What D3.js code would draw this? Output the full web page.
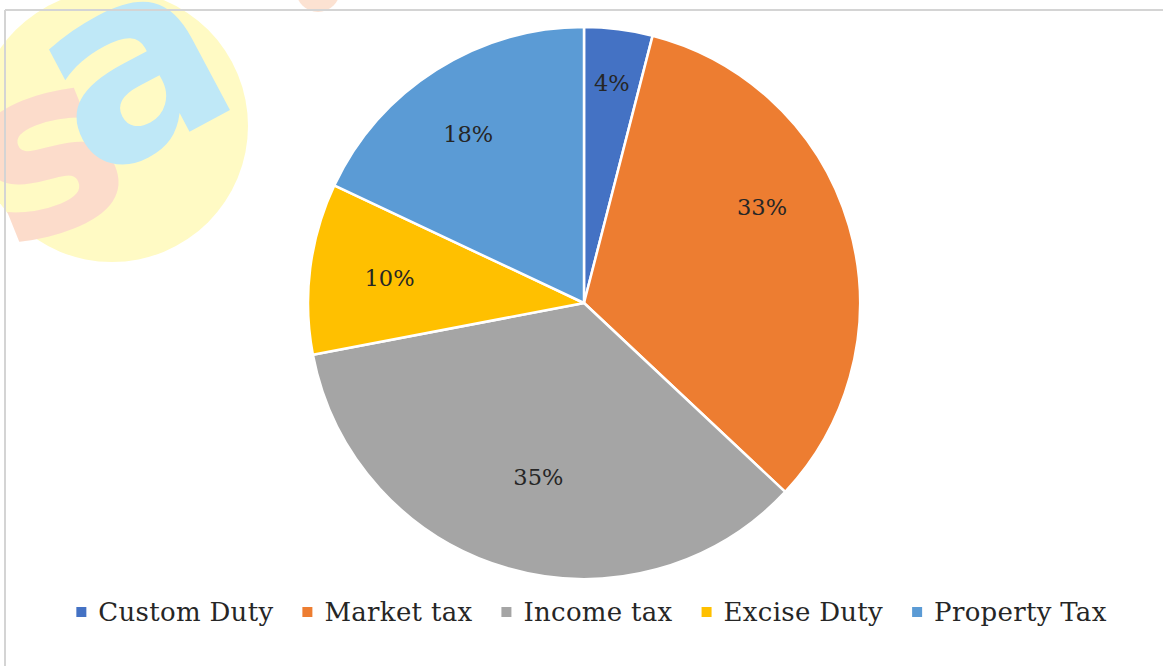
<!DOCTYPE html>
<html><head><meta charset="utf-8">
<script src="https://cdn.jsdelivr.net/npm/d3@7"></script>
<style>body{margin:0;background:#fff}svg{display:block}</style>
</head><body>
<script>
const categories = ["Custom Duty","Market tax","Income tax","Excise Duty","Property Tax"];
const values = [4,33,35,10,18];
const colors = ["#4472C4","#ED7D31","#A5A5A5","#FFC000","#5B9BD5"];
const labelText = ["4%","33%","35%","10%","18%"];

const W=1163,H=666;
const svg=d3.select("body").append("svg").attr("width",W).attr("height",H);
const font="'DejaVu Serif', 'Liberation Serif', serif";

// watermark
const wm=svg.append("g");
wm.append("circle").attr("cx",112).attr("cy",126).attr("r",136).attr("fill","#FFFAC4");
wm.append("text").attr("x",-28).attr("y",232).attr("font-family","DejaVu Sans").attr("font-weight","bold")
  .attr("font-size",240).attr("fill","#FCDCCB").attr("transform","rotate(-22,40,150)").text("s");
wm.append("text").attr("x",55).attr("y",150).attr("font-family","DejaVu Sans").attr("font-weight","bold")
  .attr("font-size",260).attr("fill","#BFE8F7").attr("transform","rotate(-28,140,90)").text("a");
wm.append("circle").attr("cx",318).attr("cy",-10).attr("r",22).attr("fill","#FCE2D2");

// frame
svg.append("line").attr("x1",5).attr("x2",W).attr("y1",10).attr("y2",10).attr("stroke","#D4D4D4").attr("stroke-width",2);
svg.append("line").attr("x1",5).attr("x2",5).attr("y1",10).attr("y2",H).attr("stroke","#D4D4D4").attr("stroke-width",2);

const cx=584, cy=303, R=276;
const pie=d3.pie().sort(null).value(d=>d)(values);
const arc=d3.arc().innerRadius(0).outerRadius(R);
const g=svg.append("g").attr("transform",`translate(${cx},${cy})`);
g.selectAll("path").data(pie).join("path").attr("d",arc)
  .attr("fill",(d,i)=>colors[i]).attr("stroke","#fff").attr("stroke-width",2.5).attr("stroke-linejoin","round");

// label placement (radius, angular shift in degrees) mimicking best-fit placement
const labelR=[222,202,180,196,205];
const labelShift=[0,-12,-1.5,0,-2];
g.selectAll("text.lbl").data(pie).join("text").attr("class","lbl")
  .attr("transform",(d,i)=>{const a=(d.startAngle+d.endAngle)/2+labelShift[i]*Math.PI/180; const r=labelR[i]; return `translate(${r*Math.sin(a)},${-r*Math.cos(a)})`;})
  .attr("text-anchor","middle").attr("dy","0.35em")
  .attr("font-family",font).attr("font-size",22.5).attr("fill","#262626")
  .text((d,i)=>labelText[i]);

// legend
const lg=svg.append("g");
const fs=26, ls=0.3;
const tmp=lg.append("text").attr("font-family",font).attr("font-size",fs).attr("letter-spacing",ls);
const widths=categories.map(c=>{tmp.text(c);return tmp.node().getComputedTextLength();});
tmp.remove();
const sq=10, gapSq=12, gapItem=29;
const total=d3.sum(widths)+categories.length*(sq+gapSq)+gapItem*(categories.length-1);
let x=(W-total)/2+10;
const ly=612;
categories.forEach((c,i)=>{
  lg.append("rect").attr("x",x).attr("y",ly-sq/2).attr("width",sq).attr("height",sq).attr("fill",colors[i]);
  lg.append("text").attr("x",x+sq+gapSq).attr("y",ly).attr("dy","0.35em").attr("font-family",font).attr("font-size",fs)
    .attr("letter-spacing",ls).attr("fill","#262626").text(c);
  x+=sq+gapSq+widths[i]+gapItem;
});
</script>
</body></html>
